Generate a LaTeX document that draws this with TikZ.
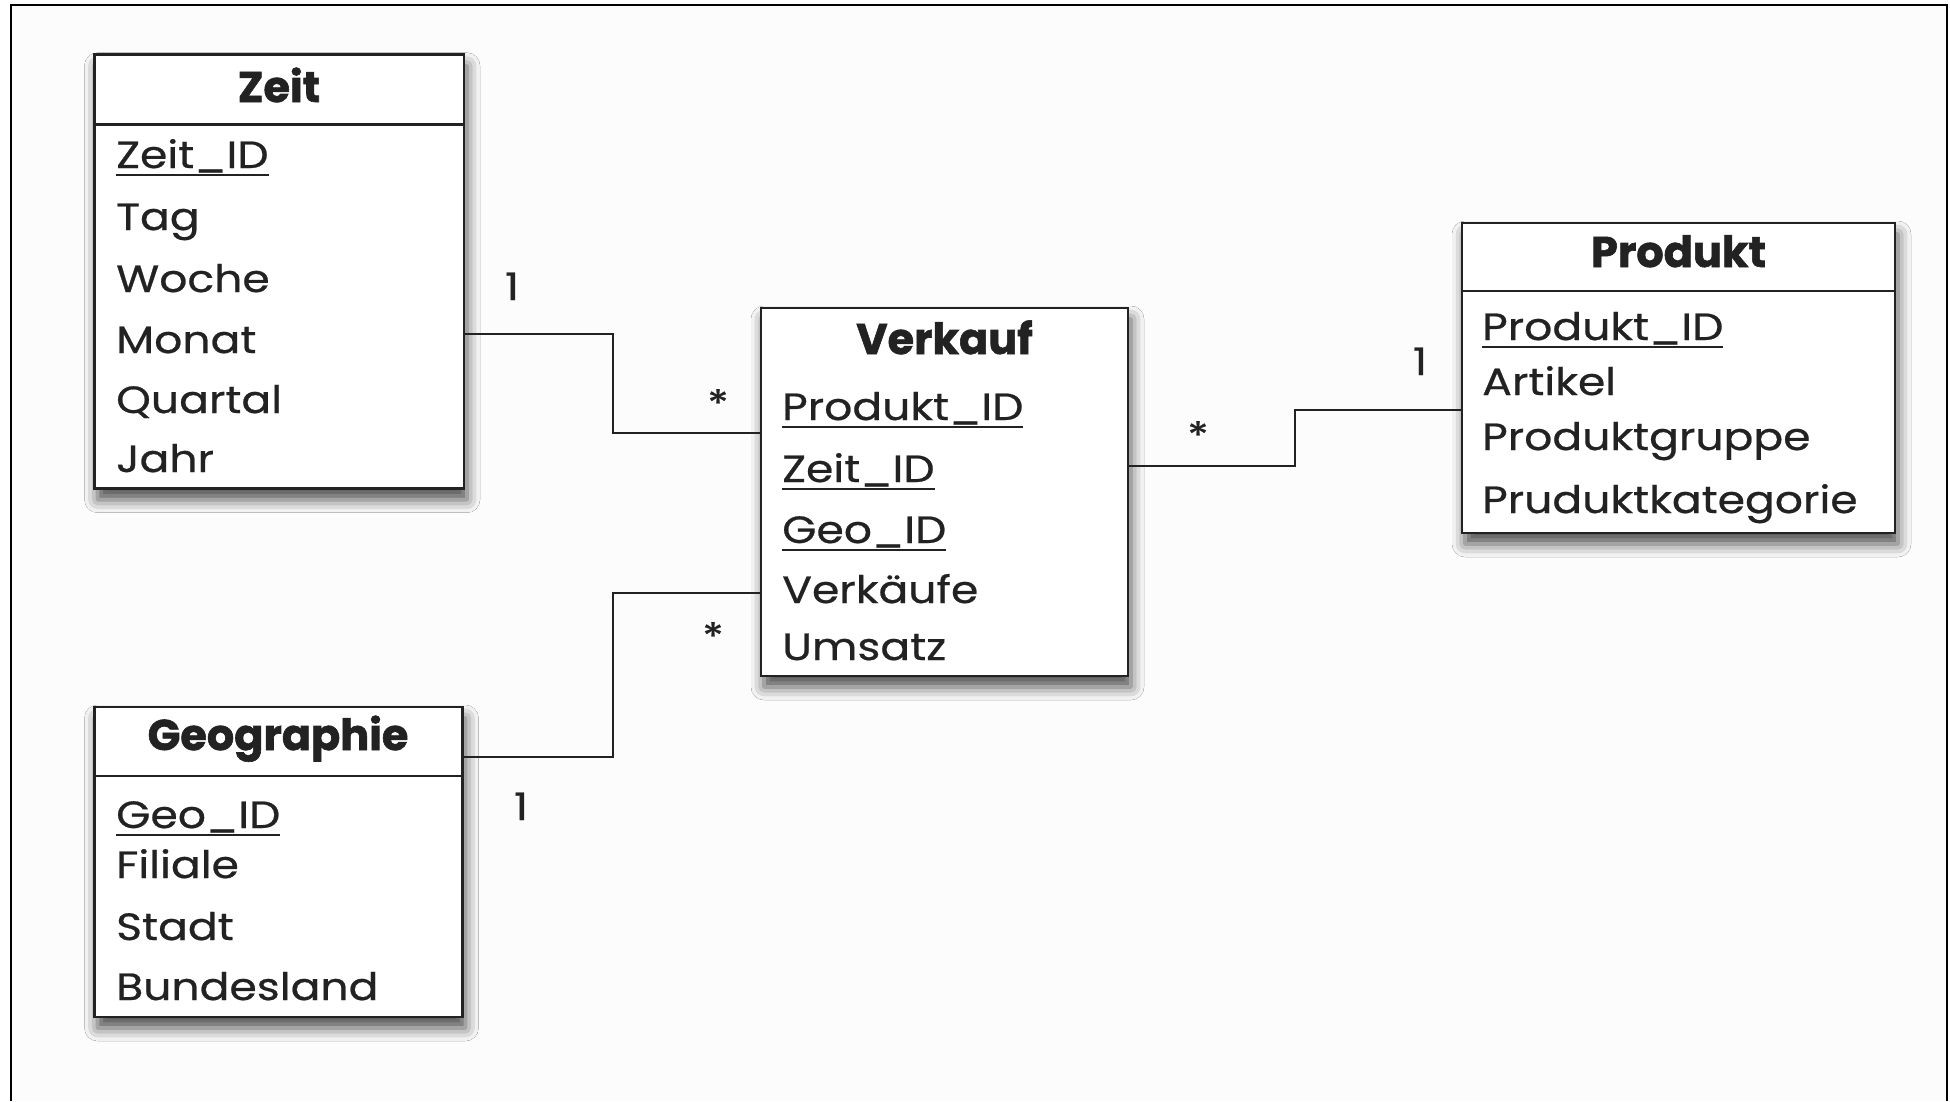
\documentclass[tikz,border=0pt]{standalone}
\usepackage{fontspec}
\setmainfont{Poppins}[FakeStretch=1.16, FakeBold=0.6]
\newfontfamily\headfont{Poppins}[FakeBold=1.4]
\usetikzlibrary{shadows.blur}

\definecolor{ink}{HTML}{222222}
\definecolor{paper}{HTML}{FCFCFC}

% primary-key attribute: text with a rule drawn under it
\newcommand\keyattr[1]{\setbox0\hbox{#1}\rlap{\usebox0}\rule[-8pt]{\wd0}{2.4pt}}

\tikzset{
  entity/.style={draw=ink, line width=2.6pt, fill=white, anchor=north west,
    inner sep=0pt, outer sep=0pt,
    blur shadow={shadow xshift=3pt, shadow yshift=-11pt,
      shadow blur radius=13pt, shadow opacity=70}},
  headline/.style={font=\headfont\bfseries\fontsize{43}{48}\selectfont,
    text=ink, anchor=base, inner sep=0pt},
  attr/.style={font=\fontsize{38}{44}\selectfont, text=ink,
    anchor=base west, inner sep=0pt},
  mult/.style={font=\fontsize{38}{44}\selectfont, text=ink,
    anchor=base, inner sep=0pt},
  rel/.style={draw=ink, line width=2.2pt},
  sep/.style={draw=ink, line width=2.6pt},
  frame/.style={draw=black, line width=2.6pt}
}

\begin{document}
\begin{tikzpicture}[x=1pt, y=-1pt]
\useasboundingbox (0,0) rectangle (1950,1101);
\fill[white] (0,0) rectangle (1950,1101);
\fill[paper] (11,5) rectangle (1947,1101);

% page frame (open at the bottom)
\draw[frame] (11,1101) -- (11,5) -- (1947,5) -- (1947,1101);

% ---------- Zeit ----------
\node[entity, minimum width=369.5pt, minimum height=434pt] (zeit) at (94.5,54.7) {};
\draw[sep] (zeit.west |- 0,124.4) -- (zeit.east |- 0,124.4);
\node[headline] (zeitT) at (279,102) {Zeit};
\node[attr] (zeitA) at (116,168) {\keyattr{Zeit\_ID}};
\node[attr] (zeitB) at (116,230) {Tag};
\node[attr] (zeitC) at (116,292) {Woche};
\node[attr] (zeitD) at (116,353) {Monat};
\node[attr] (zeitE) at (116,413) {Quartal};
\node[attr] (zeitF) at (116,472) {Jahr};

% ---------- Verkauf ----------
\node[entity, minimum width=367pt, minimum height=368pt] (verkauf) at (761,308) {};
\node[headline] (verkaufT) at (944.5,354) {Verkauf};
\node[attr] (verkaufA) at (782,420) {\keyattr{Produkt\_ID}};
\node[attr] (verkaufB) at (782,482) {\keyattr{Zeit\_ID}};
\node[attr] (verkaufC) at (782,543) {\keyattr{Geo\_ID}};
\node[attr] (verkaufD) at (782,603) {Verkäufe};
\node[attr] (verkaufE) at (782,660) {Umsatz};

% ---------- Produkt ----------
\node[entity, minimum width=433pt, minimum height=310pt] (produkt) at (1462,223) {};
\draw[sep] (produkt.west |- 0,291) -- (produkt.east |- 0,291);
\node[headline] (produktT) at (1678.5,267) {Produkt};
\node[attr] (produktA) at (1482,340) {\keyattr{Produkt\_ID}};
\node[attr] (produktB) at (1482,395) {Artikel};
\node[attr] (produktC) at (1482,450) {Produktgruppe};
\node[attr] (produktD) at (1482,513) {Pruduktkategorie};

% ---------- Geographie ----------
\node[entity, minimum width=368pt, minimum height=310pt] (geo) at (94.5,707) {};
\draw[sep] (geo.west |- 0,776) -- (geo.east |- 0,776);
\node[headline] (geoT) at (278,750) {Geographie};
\node[attr] (geoA) at (116,828) {\keyattr{Geo\_ID}};
\node[attr] (geoB) at (116,878) {Filiale};
\node[attr] (geoC) at (116,940) {Stadt};
\node[attr] (geoD) at (116,1000) {Bundesland};

% ---------- relationships ----------
\draw[rel] (zeit.east |- 0,334) -| (613,384) |- (verkauf.west |- 0,433);
\draw[rel] (geo.east |- 0,757) -| (613,676) |- (verkauf.west |- 0,593);
\draw[rel] (verkauf.east |- 0,466) -| (1295,440) |- (produkt.west |- 0,410);

% multiplicities
\node[mult] (m1) at (512,300) {1};
\node[mult] (m2) at (718,417) {*};
\node[mult] (m3) at (713,650) {*};
\node[mult] (m4) at (1198,449) {*};
\node[mult] (m5) at (1420,375) {1};
\node[mult] (m6) at (521,820) {1};
\end{tikzpicture}
\end{document}
